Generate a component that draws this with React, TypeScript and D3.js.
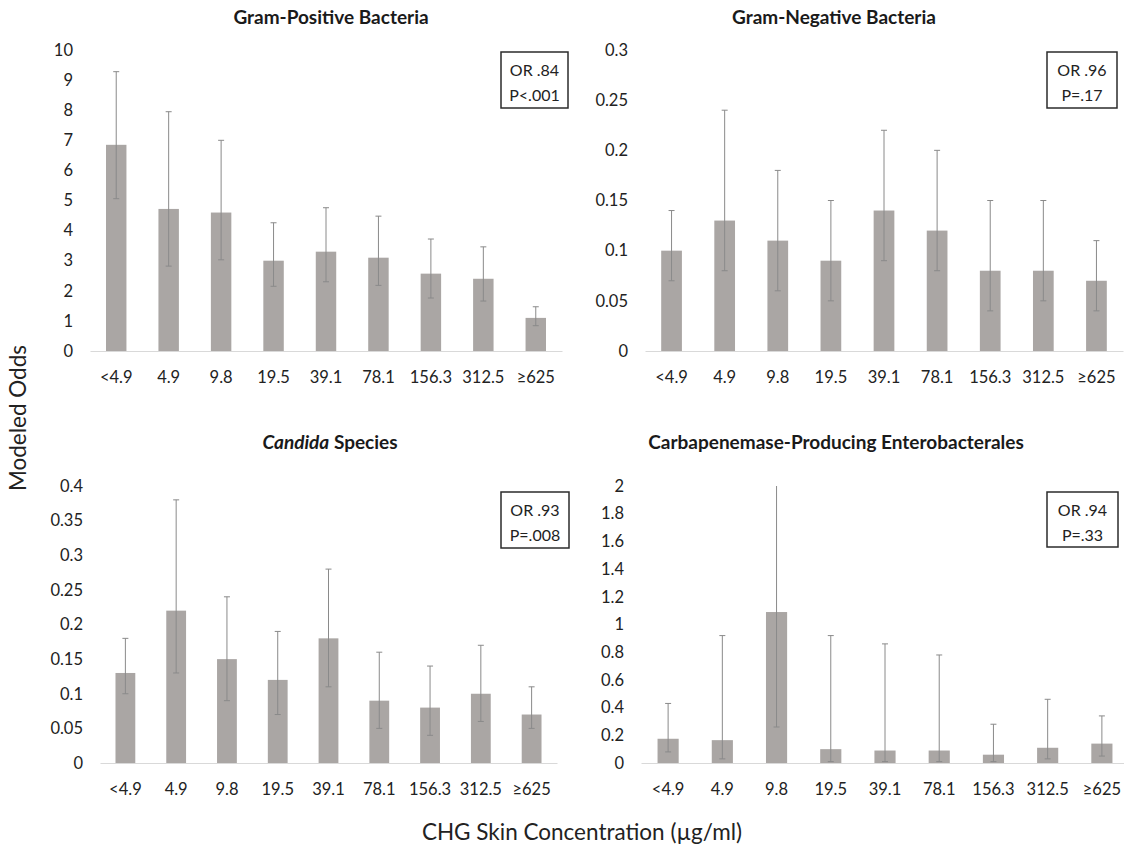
import React, { useEffect, useRef } from "react";
import * as d3 from "d3";

const categories = ["<4.9", "4.9", "9.8", "19.5", "39.1", "78.1", "156.3", "312.5", "≥625"];

const gramPosOdds = [6.85, 4.72, 4.6, 3.0, 3.3, 3.1, 2.57, 2.4, 1.1];
const gramPosLow = [5.06, 2.82, 3.03, 2.15, 2.3, 2.18, 1.76, 1.66, 0.84];
const gramPosHigh = [9.28, 7.95, 7.0, 4.26, 4.76, 4.48, 3.72, 3.46, 1.47];
const gramPosTicks = [0, 1, 2, 3, 4, 5, 6, 7, 8, 9, 10];

const gramNegOdds = [0.1, 0.13, 0.11, 0.09, 0.14, 0.12, 0.08, 0.08, 0.07];
const gramNegLow = [0.07, 0.08, 0.06, 0.05, 0.09, 0.08, 0.04, 0.05, 0.04];
const gramNegHigh = [0.14, 0.24, 0.18, 0.15, 0.22, 0.2, 0.15, 0.15, 0.11];
const gramNegTicks = [0, 0.05, 0.1, 0.15, 0.2, 0.25, 0.3];

const candidaOdds = [0.13, 0.22, 0.15, 0.12, 0.18, 0.09, 0.08, 0.1, 0.07];
const candidaLow = [0.1, 0.13, 0.09, 0.07, 0.11, 0.05, 0.04, 0.06, 0.05];
const candidaHigh = [0.18, 0.38, 0.24, 0.19, 0.28, 0.16, 0.14, 0.17, 0.11];
const candidaTicks = [0, 0.05, 0.1, 0.15, 0.2, 0.25, 0.3, 0.35, 0.4];

const cpeOdds = [0.175, 0.165, 1.09, 0.1, 0.09, 0.09, 0.06, 0.11, 0.14];
const cpeLow = [0.08, 0.03, 0.26, 0.01, 0.01, 0.01, 0.01, 0.03, 0.05];
const cpeHigh = [0.43, 0.92, 2.0, 0.92, 0.86, 0.78, 0.28, 0.46, 0.34];
const cpeTicks = [0, 0.2, 0.4, 0.6, 0.8, 1, 1.2, 1.4, 1.6, 1.8, 2];

const panelTitles = ["Gram-Positive Bacteria", "Gram-Negative Bacteria", "Candida Species", "Carbapenemase-Producing Enterobacterales"];
const oddsRatios = ["OR .84", "OR .96", "OR .93", "OR .94"];
const pValues = ["P<.001", "P=.17", "P=.008", "P=.33"];

const FONT = "Lato, 'Open Sans', sans-serif";
const BAR = "#aaa6a4";
const ERR = "#8a8a8a";

export default function App() {
  const chartRef = useRef(null);

  useEffect(() => {
    document.body.style.margin = "0";
    const svg = d3.select(chartRef.current);
    svg.selectAll("*").remove();

    const width = 1124;
    const height = 847;

    const series = [
      { odds: gramPosOdds, low: gramPosLow, high: gramPosHigh, ticks: gramPosTicks },
      { odds: gramNegOdds, low: gramNegLow, high: gramNegHigh, ticks: gramNegTicks },
      { odds: candidaOdds, low: candidaLow, high: candidaHigh, ticks: candidaTicks },
      { odds: cpeOdds, low: cpeLow, high: cpeHigh, ticks: cpeTicks },
    ];

    // plot frame of each panel
    const frames = [
      { left: 90, right: 562, zero: 351, top: 50, titleX: 331, titleY: 24, box: [501, 52, 67, 56] },
      { left: 645, right: 1123, zero: 351, top: 50, titleX: 834, titleY: 24, box: [1047, 52, 70, 56] },
      { left: 100, right: 557, zero: 763, top: 486, titleX: 330, titleY: 449, box: [501, 492, 68, 56] },
      { left: 641, right: 1129, zero: 763, top: 486, titleX: 836, titleY: 449, box: [1047, 492, 71, 55] },
    ];

    svg.attr("width", width).attr("height", height);

    series.forEach((s, i) => {
      const f = frames[i];
      const g = svg.append("g");
      const maxTick = s.ticks[s.ticks.length - 1];

      const xScale = d3
        .scaleBand()
        .domain(categories)
        .range([f.left, f.right])
        .paddingInner(0.61)
        .paddingOuter(0.305);

      const yScale = d3.scaleLinear().domain([0, maxTick]).range([f.zero, f.top]);

      // y axis labels
      const yAxis = g
        .append("g")
        .attr("transform", `translate(${f.left},0)`)
        .call(
          d3
            .axisLeft(yScale)
            .tickValues(s.ticks)
            .tickSize(0)
            .tickPadding(17)
            .tickFormat((d) => String(d))
        );
      yAxis.select(".domain").remove();
      yAxis.selectAll("text").attr("font-family", FONT).attr("font-size", 16.5).attr("fill", "#222");

      // bars
      g.selectAll("rect.bar")
        .data(s.odds)
        .enter()
        .append("rect")
        .attr("class", "bar")
        .attr("x", (d, j) => xScale(categories[j]))
        .attr("y", (d) => yScale(d))
        .attr("width", xScale.bandwidth())
        .attr("height", (d) => yScale(0) - yScale(d))
        .attr("fill", BAR);

      // x axis
      const xAxis = g
        .append("g")
        .attr("transform", `translate(0,${f.zero})`)
        .call(d3.axisBottom(xScale).tickSize(0).tickSizeOuter(0).tickPadding(20));
      xAxis.select(".domain").attr("stroke", "#d9d9d9").attr("stroke-width", 1);
      xAxis.selectAll("text").attr("font-family", FONT).attr("font-size", 16.5).attr("fill", "#222");

      // error bars
      const cx = (j) => xScale(categories[j]) + xScale.bandwidth() / 2;
      const err = g.append("g").attr("stroke", ERR).attr("stroke-width", 1);
      s.odds.forEach((d, j) => {
        const x = cx(j);
        err.append("line").attr("x1", x).attr("x2", x).attr("y1", yScale(s.low[j])).attr("y2", yScale(s.high[j]));
        err.append("line").attr("x1", x - 3).attr("x2", x + 3).attr("y1", yScale(s.low[j])).attr("y2", yScale(s.low[j]));
        if (s.high[j] < maxTick) {
          err.append("line").attr("x1", x - 3).attr("x2", x + 3).attr("y1", yScale(s.high[j])).attr("y2", yScale(s.high[j]));
        }
      });

      // title
      const title = g
        .append("text")
        .attr("x", f.titleX)
        .attr("y", f.titleY)
        .attr("text-anchor", "middle")
        .attr("font-family", FONT)
        .attr("font-weight", "bold")
        .attr("font-size", 19)
        .attr("fill", "#1a1a1a");
      if (panelTitles[i].startsWith("Candida")) {
        title.append("tspan").attr("font-style", "italic").text("Candida");
        title.append("tspan").text(" Species");
      } else {
        title.text(panelTitles[i]);
      }

      // OR / P box
      const [bx, by, bw, bh] = f.box;
      g.append("rect")
        .attr("x", bx)
        .attr("y", by)
        .attr("width", bw)
        .attr("height", bh)
        .attr("fill", "white")
        .attr("stroke", "#2b2b2b")
        .attr("stroke-width", 1.5);
      [oddsRatios[i], pValues[i]].forEach((t, k) => {
        g.append("text")
          .attr("x", bx + bw / 2)
          .attr("y", by + 24 + k * 25)
          .attr("text-anchor", "middle")
          .attr("font-family", FONT)
          .attr("font-size", 16)
          .attr("fill", "#222")
          .text(t);
      });
    });

    svg
      .append("text")
      .attr("transform", "translate(26,418) rotate(-90)")
      .attr("text-anchor", "middle")
      .attr("font-family", FONT)
      .attr("font-size", 22.5)
      .attr("fill", "#222")
      .text("Modeled Odds");

    svg
      .append("text")
      .attr("x", 582)
      .attr("y", 840)
      .attr("text-anchor", "middle")
      .attr("font-family", FONT)
      .attr("font-size", 22.5)
      .attr("fill", "#222")
      .text("CHG Skin Concentration (µg/ml)");
  }, []);

  return <svg ref={chartRef} style={{ display: "block" }} />;
}
